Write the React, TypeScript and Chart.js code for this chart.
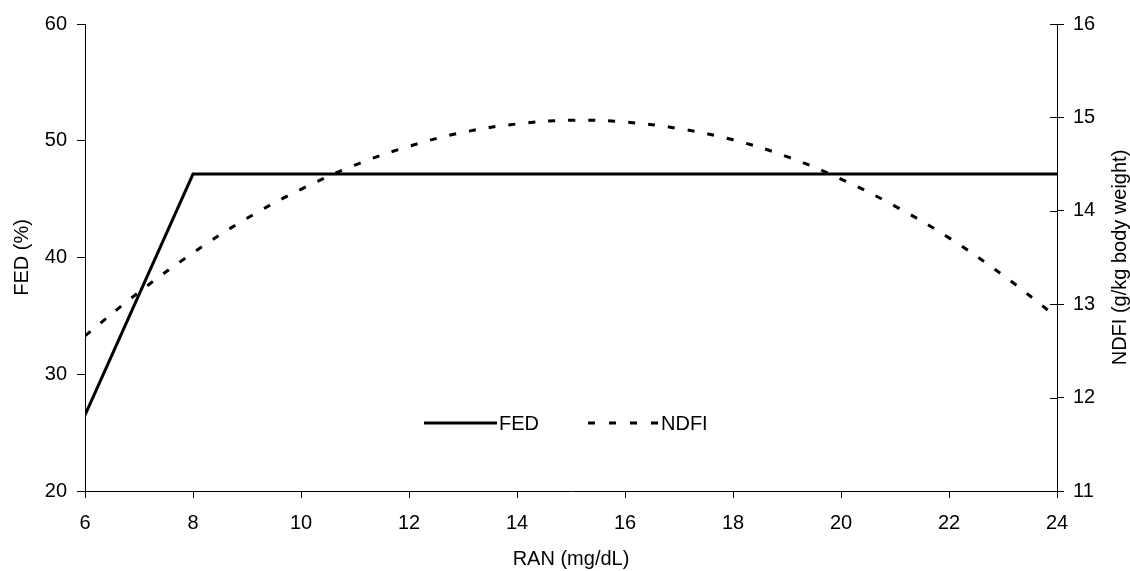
import React, { useEffect, useRef } from "react";
import { Chart, registerables } from "chart.js";

Chart.register(...registerables);

// FED (%) — left axis
const fedRan = [6, 8, 24];
const fedValues = [26.5, 47.15, 47.15];

// NDFI (g/kg body weight) — right axis
const ndfiRan = [6, 7, 8, 9, 10, 11, 12, 13, 14, 15, 16, 17, 18, 19, 20, 21, 22, 23, 24];
const ndfiValues = [12.66, 13.13, 13.55, 13.92, 14.23, 14.49, 14.69, 14.84, 14.93, 14.97, 14.95, 14.88, 14.76, 14.58, 14.34, 14.05, 13.71, 13.31, 12.86];

const xTitle = "RAN (mg/dL)";
const yLeftTitle = "FED (%)";
const yRightTitle = "NDFI (g/kg body weight)";
const legendLabels = ["FED", "NDFI"];

const FONT = "'Liberation Sans', Arial, sans-serif";
const FS = 20;

export default function App() {
  const ref = useRef<HTMLCanvasElement | null>(null);

  useEffect(() => {
    if (!ref.current) return;

    const extrasPlugin = {
      id: "extras",
      afterDatasetsDraw(chart: any) {
        const ctx = chart.ctx;
        const area = chart.chartArea;
        ctx.save();
        // legend
        const y = 423;
        ctx.strokeStyle = "#000";
        ctx.lineWidth = 3;
        ctx.lineCap = "butt";
        ctx.setLineDash([]);
        ctx.beginPath();
        ctx.moveTo(424, y);
        ctx.lineTo(497, y);
        ctx.stroke();
        ctx.setLineDash([7, 14]);
        ctx.beginPath();
        ctx.moveTo(588, y);
        ctx.lineTo(660, y);
        ctx.stroke();
        ctx.setLineDash([]);
        ctx.fillStyle = "#000";
        ctx.font = `${FS}px ${FONT}`;
        ctx.textAlign = "left";
        ctx.textBaseline = "middle";
        ctx.fillText(legendLabels[0], 499, y + 1);
        ctx.fillText(legendLabels[1], 661, y + 1);
        // inner part of right axis ticks
        const s = chart.scales.y1;
        ctx.lineWidth = 1;
        ctx.beginPath();
        s.ticks.forEach((t: any) => {
          const py = Math.round(s.getPixelForValue(t.value)) + 0.5;
          ctx.moveTo(s.left - 7, py);
          ctx.lineTo(s.left, py);
        });
        ctx.stroke();
        // right axis title, reading bottom-to-top
        ctx.translate(1120, (area.top + area.bottom) / 2);
        ctx.rotate(-Math.PI / 2);
        ctx.textAlign = "center";
        ctx.textBaseline = "middle";
        ctx.fillText(yRightTitle, 0, 0);
        ctx.restore();
      },
    };

    const tickFont = { family: FONT, size: FS };

    const chart = new Chart(ref.current, {
      type: "line",
      data: {
        datasets: [
          {
            label: legendLabels[0],
            data: fedRan.map((x, i) => ({ x, y: fedValues[i] })),
            yAxisID: "y",
            borderColor: "#000",
            borderWidth: 3,
            pointRadius: 0,
            tension: 0,
            fill: false,
          },
          {
            label: legendLabels[1],
            data: ndfiRan.map((x, i) => ({ x, y: ndfiValues[i] })),
            yAxisID: "y1",
            borderColor: "#000",
            borderWidth: 3,
            borderDash: [7, 13],
            borderCapStyle: "butt",
            pointRadius: 0,
            tension: 0.4,
            fill: false,
          },
        ],
      },
      options: {
        responsive: false,
        animation: false,
        layout: { padding: { top: 24, left: 0, right: 0, bottom: 0 } },
        plugins: { legend: { display: false }, tooltip: { enabled: false } },
        scales: {
          x: {
            type: "linear",
            min: 6,
            max: 24,
            afterFit: (s: any) => { s.height = 80; },
            ticks: { stepSize: 2, color: "#000", font: tickFont, padding: 13, maxRotation: 0 },
            grid: { drawOnChartArea: false, color: "#000", tickLength: 7 },
            border: { color: "#000", width: 1 },
            title: { display: true, text: xTitle, color: "#000", font: tickFont, padding: { top: 0, bottom: 0 } },
          },
          y: {
            type: "linear",
            position: "left",
            min: 20,
            max: 60,
            afterFit: (s: any) => { s.width = 85; },
            ticks: { stepSize: 10, color: "#000", font: tickFont, padding: 10 },
            grid: { drawOnChartArea: false, color: "#000", tickLength: 8 },
            border: { color: "#000", width: 1 },
            title: { display: true, text: yLeftTitle, color: "#000", font: tickFont, padding: { top: 10, bottom: 0 } },
          },
          y1: {
            type: "linear",
            position: "right",
            min: 11,
            max: 16,
            afterFit: (s: any) => { s.width = 73; },
            ticks: { stepSize: 1, color: "#000", font: tickFont, padding: 9 },
            grid: { drawOnChartArea: false, color: "#000", tickLength: 7 },
            border: { color: "#000", width: 1 },
            title: { display: false },
          },
        },
      },
      plugins: [extrasPlugin],
    } as any);

    return () => chart.destroy();
  }, []);

  return (
    <div style={{ position: "absolute", left: 0, top: 0, width: 1130, height: 571, background: "#fff" }}>
      <canvas ref={ref} width={1130} height={571} />
    </div>
  );
}
